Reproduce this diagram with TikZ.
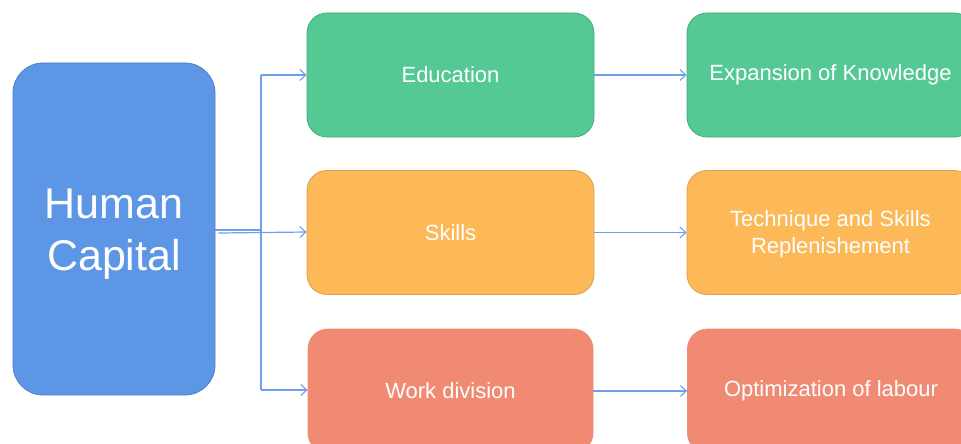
\documentclass[tikz,border=0pt]{standalone}
\usepackage{fontspec}
\setmainfont{Liberation Sans}
\usetikzlibrary{arrows.meta}
\definecolor{hcblue}{HTML}{5E96E6}
\definecolor{hcblueline}{HTML}{4C80CC}
\definecolor{edgreen}{HTML}{55C994}
\definecolor{edgreenline}{HTML}{41A97A}
\definecolor{skorange}{HTML}{FDB857}
\definecolor{skorangeline}{HTML}{D9A048}
\definecolor{wkred}{HTML}{F08A72}
\definecolor{wkredline}{HTML}{EE8C76}
\definecolor{linkblue}{HTML}{6F9FEA}
\begin{document}
\begin{tikzpicture}[x=1pt,y=-1pt,
  box/.style={rectangle, rounded corners=20pt, minimum width=287pt, minimum height=124pt,
    inner sep=0pt, text=white, align=center, line width=0.8pt,
    font=\fontsize{22}{27}\selectfont},
  greenbox/.style={box, fill=edgreen, draw=edgreenline},
  orangebox/.style={box, fill=skorange, draw=skorangeline},
  redbox/.style={box, fill=wkred, draw=wkredline},
  label/.style={text=white, align=center, inner sep=0pt, font=\fontsize{22}{27}\selectfont},
  link/.style={draw=linkblue, line width=1.2pt},
  linkarrow/.style={link, -{Straight Barb[length=6pt, width=11pt, line width=1.1pt]}}
]
\useasboundingbox (0,0) rectangle (961,444);
\clip (0,0) rectangle (961,444);
\fill[white] (0,0) rectangle (961,444);

% source block
\node[rectangle, rounded corners=30pt, minimum width=202pt, minimum height=332pt,
  fill=hcblue, draw=hcblueline, line width=0.8pt] (hc) at (114,229) {};
\node[text=white, align=center, inner sep=0pt,
  font=\fontsize{43}{52}\selectfont] (hclabel) at (114,234) {Human\\Capital};

% middle column
\node[greenbox] (edu) at (450.5,75) {Education};
\node[orangebox] (skl) at (450.5,232.5) {Skills};
\node[redbox, minimum width=285pt] (wrk) at (450.5,391) {Work division};

% right column
\node[greenbox] (exp) at (830.5,75) {Expansion of Knowledge};
\node[orangebox] (tec) at (830.5,232.5) {};
\node[label] (teclabel) at (830.5,234.5) {Technique and Skills\\Replenishement};
\node[redbox] (opt) at (831,391) {Optimization of labour};

% fan-out from the source block
\coordinate (trunk) at (261,230);
\coordinate (trunktop) at (261,75);
\coordinate (trunkbot) at (261,390);
\draw[link] (hc.east |- trunk) -- (trunk);
\draw[link] (trunktop) -- (trunkbot);
\draw[linkarrow] (trunktop) -- (edu.west |- trunktop);
\draw[linkarrow] (trunkbot) -- (wrk.west |- trunkbot);
\draw[linkarrow] ([xshift=3pt]hc.east |- skl.west) ++(0,0.5) -- ([yshift=0.5pt]skl.west);

% second column to third column
\draw[linkarrow] (edu.east) -- (exp.west);
\draw[linkarrow] (skl.east) -- (tec.west);
\draw[linkarrow] (wrk.east) -- (opt.west);
\end{tikzpicture}
\end{document}
